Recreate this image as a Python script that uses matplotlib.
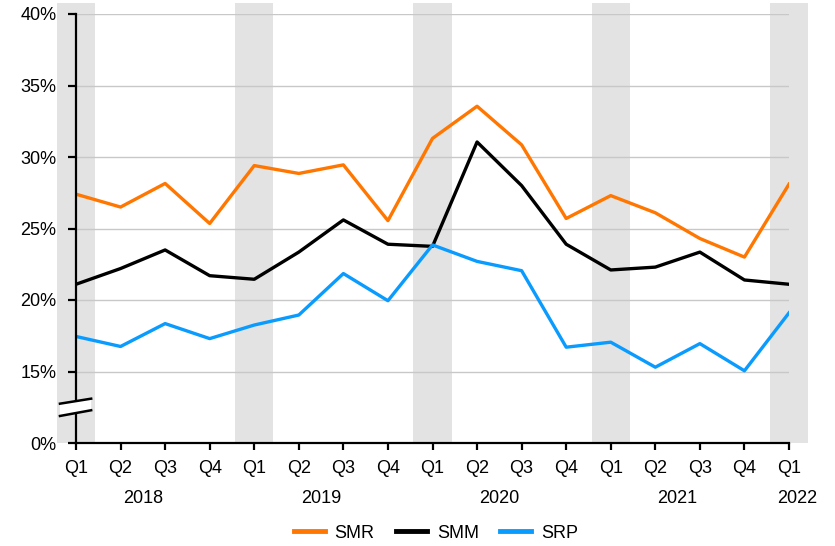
import matplotlib
matplotlib.use("Agg")
import matplotlib.pyplot as plt
from matplotlib.patches import Rectangle, Polygon
from matplotlib.lines import Line2D

plt.rcParams['font.family'] = ['Liberation Sans', 'DejaVu Sans']

quarters = ["Q1", "Q2", "Q3", "Q4"] * 4 + ["Q1"]
years = ["2018", "2019", "2020", "2021", "2022"]
smr = [27.4, 26.5, 28.15, 25.35, 29.4, 28.85, 29.45, 25.55, 31.3, 33.55, 30.85,
       25.7, 27.3, 26.1, 24.3, 23.0, 28.1]
smm = [21.1, 22.2, 23.5, 21.7, 21.45, 23.35, 25.6, 23.9, 23.75, 31.05, 28.0,
       23.9, 22.1, 22.3, 23.35, 21.4, 21.1]
srp = [17.45, 16.75, 18.35, 17.3, 18.25, 18.95, 21.85, 19.95, 23.85, 22.7, 22.05,
       16.7, 17.05, 15.3, 16.95, 15.05, 19.1]
ytick_vals = [10, 15, 20, 25, 30, 35, 40]
ytick_labels = ["0%", "15%", "20%", "25%", "30%", "35%", "40%"]

W, H = 835, 546
fig = plt.figure(figsize=(W / 100, H / 100), dpi=100)
ax = fig.add_axes([76 / W, (H - 443) / H, (789 - 76) / W, (443 - 14) / H])
x = list(range(len(quarters)))
ax.set_xlim(0, 16)
ax.set_ylim(10, 40)

# shaded Q1 bands
for i in range(0, len(quarters), 4):
    ax.add_patch(Rectangle((i - 0.43, 10), 0.86, 30.8, facecolor="#E3E3E3",
                           edgecolor="none", clip_on=False, zorder=0))

for v in ytick_vals[1:]:
    ax.axhline(v, color="#C8C8C8", lw=1.0, zorder=1)

ax.plot(x, smr, color="#FF7700", lw=2.4, label="SMR", zorder=3)
ax.plot(x, smm, color="#000000", lw=2.4, label="SMM", zorder=3)
ax.plot(x, srp, color="#0A9BFF", lw=2.4, label="SRP", zorder=3)

for s in ["top", "right"]:
    ax.spines[s].set_visible(False)
for s in ["left", "bottom"]:
    ax.spines[s].set_linewidth(1.6)
    ax.spines[s].set_zorder(4)

ax.set_yticks(ytick_vals)
ax.set_yticklabels(ytick_labels)
ax.set_xticks(x)
ax.set_xticklabels(quarters)
ax.tick_params(axis="y", length=6, width=1.6, pad=8, labelsize=13)
ax.tick_params(axis="x", length=5, width=1.6, pad=7, labelsize=13)

# year labels
year_pos = [1.5, 5.5, 9.5, 13.5, 16.18]
for yp, yl in zip(year_pos, years):
    ax.text(yp, -0.13, yl, transform=ax.get_xaxis_transform(), ha="center",
            va="center", fontsize=13)

# axis break mark
brk = Polygon([(-0.36, 12.75), (0.34, 13.1), (0.34, 12.29), (-0.36, 11.89)],
              closed=True, facecolor="white", edgecolor="none", clip_on=False, zorder=5)
ax.add_patch(brk)
ax.add_line(Line2D([-0.36, 0.34], [12.75, 13.1], color="black", lw=1.8, clip_on=False, zorder=6))
ax.add_line(Line2D([-0.36, 0.34], [11.89, 12.29], color="black", lw=1.8, clip_on=False, zorder=6))

handles = [Line2D([], [], color=c, lw=3.5) for c in ["#FF7700", "#000000", "#0A9BFF"]]
fig.legend(handles, ["SMR", "SMM", "SRP"], loc="center", ncol=3, frameon=False,
           bbox_to_anchor=(436 / W, (H - 533) / H), fontsize=13, handlelength=1.7,
           columnspacing=1.2, handletextpad=0.55)

fig.savefig("out.png", dpi=100)
